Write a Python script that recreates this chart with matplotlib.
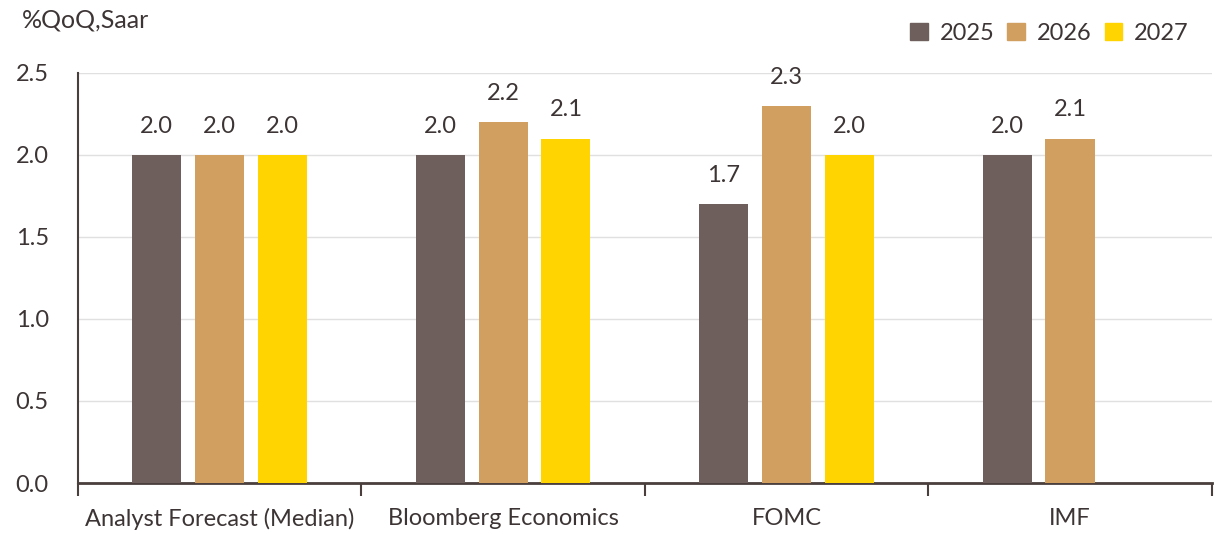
import numpy as np
import matplotlib
matplotlib.use("Agg")
import matplotlib.pyplot as plt
from matplotlib.patches import Patch

# Data.
categories = ["Analyst Forecast (Median)", "Bloomberg Economics", "FOMC", "IMF"]
years = ["2025", "2026", "2027"]
v2025 = [2.0, 2.0, 1.7, 2.0]
v2026 = [2.0, 2.2, 2.3, 2.1]
v2027 = [2.0, 2.1, 2.0, np.nan]
yticks = [0.0, 0.5, 1.0, 1.5, 2.0, 2.5]

colors = ["#6e5f5c", "#d1a060", "#ffd400"]
text_col = "#3d3535"
plt.rcParams["font.family"] = ["Lato", "DejaVu Sans"]

fig = plt.figure(figsize=(12.16, 5.34), dpi=100)
ax = fig.add_axes([0.064, 0.0955, 0.9325, 0.768])

x = np.arange(len(categories))
width = 0.173
step = 0.222
for i, (vals, col) in enumerate(zip([v2025, v2026, v2027], colors)):
    pos = x + (i - 1) * step
    ax.bar(pos, vals, width=width, color=col, zorder=3)
    for p, v in zip(pos, vals):
        if not np.isnan(v):
            ax.text(p, v + 0.11, f"{v:.1f}", ha="center", va="bottom",
                    fontsize=17, color=text_col)

ax.set_xlim(-0.5, len(categories) - 0.5)
ax.set_ylim(0, 2.5)
ax.set_yticks(yticks)
ax.set_yticklabels([f"{t:.1f}" for t in yticks], fontsize=17, color=text_col)
ax.tick_params(axis="y", length=0, pad=21)
ax.grid(axis="y", color="#e0e0e0", linewidth=1, zorder=0)

ax.set_xticks(x)
ax.set_xticklabels(categories, fontsize=17, color=text_col)
ax.tick_params(axis="x", which="major", length=0, pad=18)
ax.set_xticks(np.arange(-0.5, len(categories)), minor=True)
ax.tick_params(axis="x", which="minor", length=9, width=1.5, color="#4a3f3c")

for s in ["top", "right"]:
    ax.spines[s].set_visible(False)
ax.spines["left"].set_color("#4a3f3c")
ax.spines["left"].set_linewidth(1.5)
ax.spines["bottom"].set_color("#4a3f3c")
ax.spines["bottom"].set_linewidth(2)

fig.text(0.018, 0.962, "%QoQ,Saar", fontsize=18, color=text_col, va="center")

handles = [Patch(color=c) for c in colors]
fig.legend(handles, years, loc="center right", bbox_to_anchor=(0.995, 0.938),
           ncol=3, frameon=False, fontsize=17, handlelength=0.75, handleheight=0.75,
           handletextpad=0.5, columnspacing=0.55, labelcolor=text_col)

fig.savefig("out.png", dpi=100)
